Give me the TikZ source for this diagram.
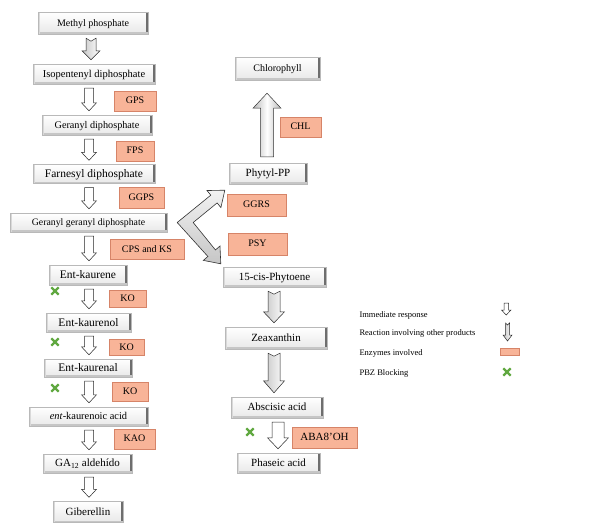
\documentclass[tikz,border=0pt]{standalone}
\usepackage{fontspec}
\setmainfont{Liberation Serif}
\usepackage{tikz}
\usetikzlibrary{calc,shapes.misc}
\definecolor{enzfill}{RGB}{248,180,152}
\definecolor{enzline}{RGB}{214,132,104}
\definecolor{pbzgreen}{RGB}{96,168,64}
\definecolor{bevel}{RGB}{110,110,110}

% block arrow pointing down: style, axis, upper node, lower node, shaft/2, head/2, head length, notch
\newcommand\flowarr[8]{%
  \draw[#1] let \p1=(#2), \p2=(#3.south), \p3=(#4.north) in
    (\x1-#5,\y2-4pt) -- (\x1,\y2-4pt-#8) -- (\x1+#5,\y2-4pt) -- (\x1+#5,\y3+4pt+#7)
    -- (\x1+#6,\y3+4pt+#7) -- (\x1,\y3+4pt) -- (\x1-#6,\y3+4pt+#7) -- (\x1-#5,\y3+4pt+#7) -- cycle;}

\begin{document}
\begin{tikzpicture}[x=1pt, y=-1pt,
  fs/.style={font=\fontsize{#1}{#1}\selectfont},
  cbox/.style={draw=gray!55, top color=white, bottom color=gray!18, inner sep=0pt,
    text depth=0.2ex, fs=11,
    path picture={
      \fill[bevel] ([xshift=-2.5pt]path picture bounding box.north east) rectangle (path picture bounding box.south east);
      \fill[gray!45] (path picture bounding box.south west) rectangle ([yshift=2pt]path picture bounding box.south east);
      \fill[gray!30] (path picture bounding box.south west) rectangle ([xshift=1.5pt]path picture bounding box.north west);}},
  enz/.style={draw=enzline, fill=enzfill, inner sep=0pt, text depth=0.2ex, fs=10},
  pbz/.style={cross out, draw=pbzgreen, line width=2.3pt, minimum size=5pt, inner sep=0pt},
  legtext/.style={anchor=west, fs=8.5},
  thinarr/.style={draw=black!85, fill=white, line width=0.5pt},
  longarr/.style={draw=black!85, left color=gray!45, right color=white, line width=0.5pt},
  bigarr/.style={draw=black!80, left color=gray!55, right color=gray!55, middle color=white, line width=0.5pt},
  chev/.style={draw=black!80, top color=gray!10, bottom color=gray!45, line width=0.6pt}
]
\useasboundingbox (0,0) rectangle (599,531);

% gibberellin branch
\node[cbox, fs=10, minimum width=110pt, minimum height=22pt] (mp) at (93,23) {Methyl phosphate};
\node[cbox, fs=10.5, minimum width=122pt, minimum height=20pt] (ip) at (94,74) {Isopentenyl diphosphate};
\node[cbox, fs=10.2, minimum width=110pt, minimum height=20pt] (gp) at (97,125) {Geranyl diphosphate};
\node[cbox, fs=11.5, minimum width=122pt, minimum height=19pt] (fp) at (94,174) {Farnesyl diphosphate};
\node[cbox, fs=9.8, minimum width=157pt, minimum height=19pt] (ggd) at (88.5,222.5) {Geranyl geranyl diphosphate};
\node[cbox, fs=11.5, minimum width=78pt, minimum height=20pt] (ek) at (88,275) {Ent-kaurene};
\node[cbox, fs=11.5, minimum width=85pt, minimum height=19pt] (ekol) at (88.5,322.5) {Ent-kaurenol};
\node[cbox, fs=11.5, minimum width=88pt, minimum height=18pt] (ekal) at (88,368) {Ent-kaurenal};
\node[cbox, fs=10.4, minimum width=119pt, minimum height=19pt] (eka) at (88.5,416.5) {\textit{ent}-kaurenoic acid};
\node[cbox, minimum width=89pt, minimum height=19pt] (ga) at (87.5,463.5) {GA\textsubscript{12} aldehído};
\node[cbox, minimum width=70pt, minimum height=21pt] (gib) at (88,512) {Giberellin};

\node[enz, minimum width=42pt, minimum height=20pt] (gps) at (135,101) {GPS};
\node[enz, minimum width=38pt, minimum height=20pt] (fps) at (135,151) {FPS};
\node[enz, minimum width=45pt, minimum height=21pt] (ggps) at (141.5,197.5) {GGPS};
\node[enz, minimum width=74pt, minimum height=20pt] (cps) at (147,249) {CPS and KS};
\node[enz, minimum width=37pt, minimum height=17pt] (ko1) at (127.5,298.5) {KO};
\node[enz, minimum width=35pt, minimum height=16pt] (ko2) at (126.5,347.5) {KO};
\node[enz, minimum width=36pt, minimum height=19pt] (ko3) at (130,391.5) {KO};
\node[enz, minimum width=41pt, minimum height=20pt] (kao) at (134.5,439) {KAO};

\node[pbz] (x1) at (55,291) {};
\node[pbz] (x2) at (55,342) {};
\node[pbz] (x3) at (55,388) {};

\coordinate (axl) at (89,0);
\flowarr{longarr}{91,0}{mp}{ip}{5pt}{9pt}{9pt}{3pt}
\flowarr{thinarr}{axl}{ip}{gp}{4.5pt}{7.5pt}{8pt}{0pt}
\flowarr{thinarr}{axl}{gp}{fp}{4.5pt}{7.5pt}{8pt}{0pt}
\flowarr{thinarr}{axl}{fp}{ggd}{4.5pt}{7.5pt}{8pt}{0pt}
\flowarr{thinarr}{axl}{ggd}{ek}{4.5pt}{7.5pt}{8pt}{0pt}
\flowarr{thinarr}{axl}{ek}{ekol}{4.5pt}{7.5pt}{8pt}{0pt}
\flowarr{thinarr}{axl}{ekol}{ekal}{4.5pt}{7.5pt}{8pt}{0pt}
\flowarr{thinarr}{axl}{ekal}{eka}{4.5pt}{7.5pt}{8pt}{0pt}
\flowarr{thinarr}{axl}{eka}{ga}{4.5pt}{7.5pt}{8pt}{0pt}
\flowarr{thinarr}{axl}{ga}{gib}{4.5pt}{7.5pt}{8pt}{0pt}

% chlorophyll / ABA branch
\node[cbox, fs=10, minimum width=85pt, minimum height=23pt] (chl) at (277.5,68.5) {Chlorophyll};
\node[cbox, minimum width=78pt, minimum height=21pt] (phy) at (268,173.5) {Phytyl-PP};
\node[cbox, minimum width=103pt, minimum height=20pt] (cis) at (274.5,277) {15-cis-Phytoene};
\node[cbox, minimum width=102pt, minimum height=22pt] (zea) at (276,338) {Zeaxanthin};
\node[cbox, minimum width=92pt, minimum height=21pt] (aba) at (277,407.5) {Abscisic acid};
\node[cbox, minimum width=83pt, minimum height=20pt] (pha) at (278.5,463) {Phaseic acid};

\node[enz, minimum width=41pt, minimum height=20pt] (chlz) at (300.5,127) {CHL};
\node[enz, minimum width=59pt, minimum height=22pt] (ggrs) at (256.5,205) {GGRS};
\node[enz, minimum width=59pt, minimum height=22pt] (psy) at (257.5,244) {PSY};
\node[enz, fs=11, minimum width=65pt, minimum height=21pt] (aba8) at (324.5,437.5) {ABA8'OH};
\node[pbz] (x4) at (250,432) {};

% phytyl-PP up to chlorophyll
\coordinate (axu) at (267,0);
\draw[bigarr] let \p1=(axu), \p2=(phy.north), \p3=(chl.south) in
  (\x1-6.5pt,\y2+6pt) -- (\x1+6.5pt,\y2+6pt) -- (\x1+6.5pt,\y3-28pt) -- (\x1+14pt,\y3-28pt)
  -- (\x1,\y3-13pt) -- (\x1-14pt,\y3-28pt) -- (\x1-6.5pt,\y3-28pt) -- cycle;

% split from geranyl geranyl diphosphate
\coordinate (vx) at ($(ggd.east)+(18,0)$);
\coordinate (t1) at ($(phy.south west)+(-4,6)$);
\coordinate (t2) at ($(cis.north west)+(-2,-3)$);
\coordinate (b1) at ($(t1)!14pt!(vx)$);
\coordinate (b2) at ($(t2)!14pt!(vx)$);
\draw[chev] ($(vx)+(-8,0)$) -- ($(b1)!5pt!90:(t1)$) -- ($(b1)!11pt!90:(t1)$) -- (t1)
  -- ($(b1)!11pt!-90:(t1)$) -- ($(b1)!5pt!-90:(t1)$) -- ($(vx)+(8,0)$)
  -- ($(b2)!5pt!90:(t2)$) -- ($(b2)!11pt!90:(t2)$) -- (t2)
  -- ($(b2)!11pt!-90:(t2)$) -- ($(b2)!5pt!-90:(t2)$) -- cycle;

\flowarr{longarr}{274,0}{cis}{zea}{6pt}{10.5pt}{11pt}{3pt}
\flowarr{longarr}{274,0}{zea}{aba}{6pt}{10.5pt}{12pt}{3pt}
\flowarr{thinarr}{278,0}{aba}{pha}{6pt}{10.5pt}{11pt}{0pt}

% legend
\node[legtext] (l1) at (356,315) {Immediate response};
\node[legtext] (l2) at (356,333) {Reaction involving other products};
\node[legtext] (l3) at (356,353) {Enzymes involved};
\node[legtext] (l4) at (356,373) {PBZ Blocking};
\draw[thinarr] (504,303) -- (508.5,303) -- (508.5,310) -- (511,310) -- (506.2,315) -- (501.5,310) -- (504,310) -- cycle;
\draw[longarr] (505.5,323) -- (507.5,325) -- (509.5,323) -- (509.5,335) -- (512,335) -- (507.5,341) -- (503,335) -- (505.5,335) -- cycle;
\node[enz, minimum width=19pt, minimum height=7pt] (l3e) at (509.5,351.5) {};
\node[pbz] (l4x) at (507,372) {};
\end{tikzpicture}
\end{document}
